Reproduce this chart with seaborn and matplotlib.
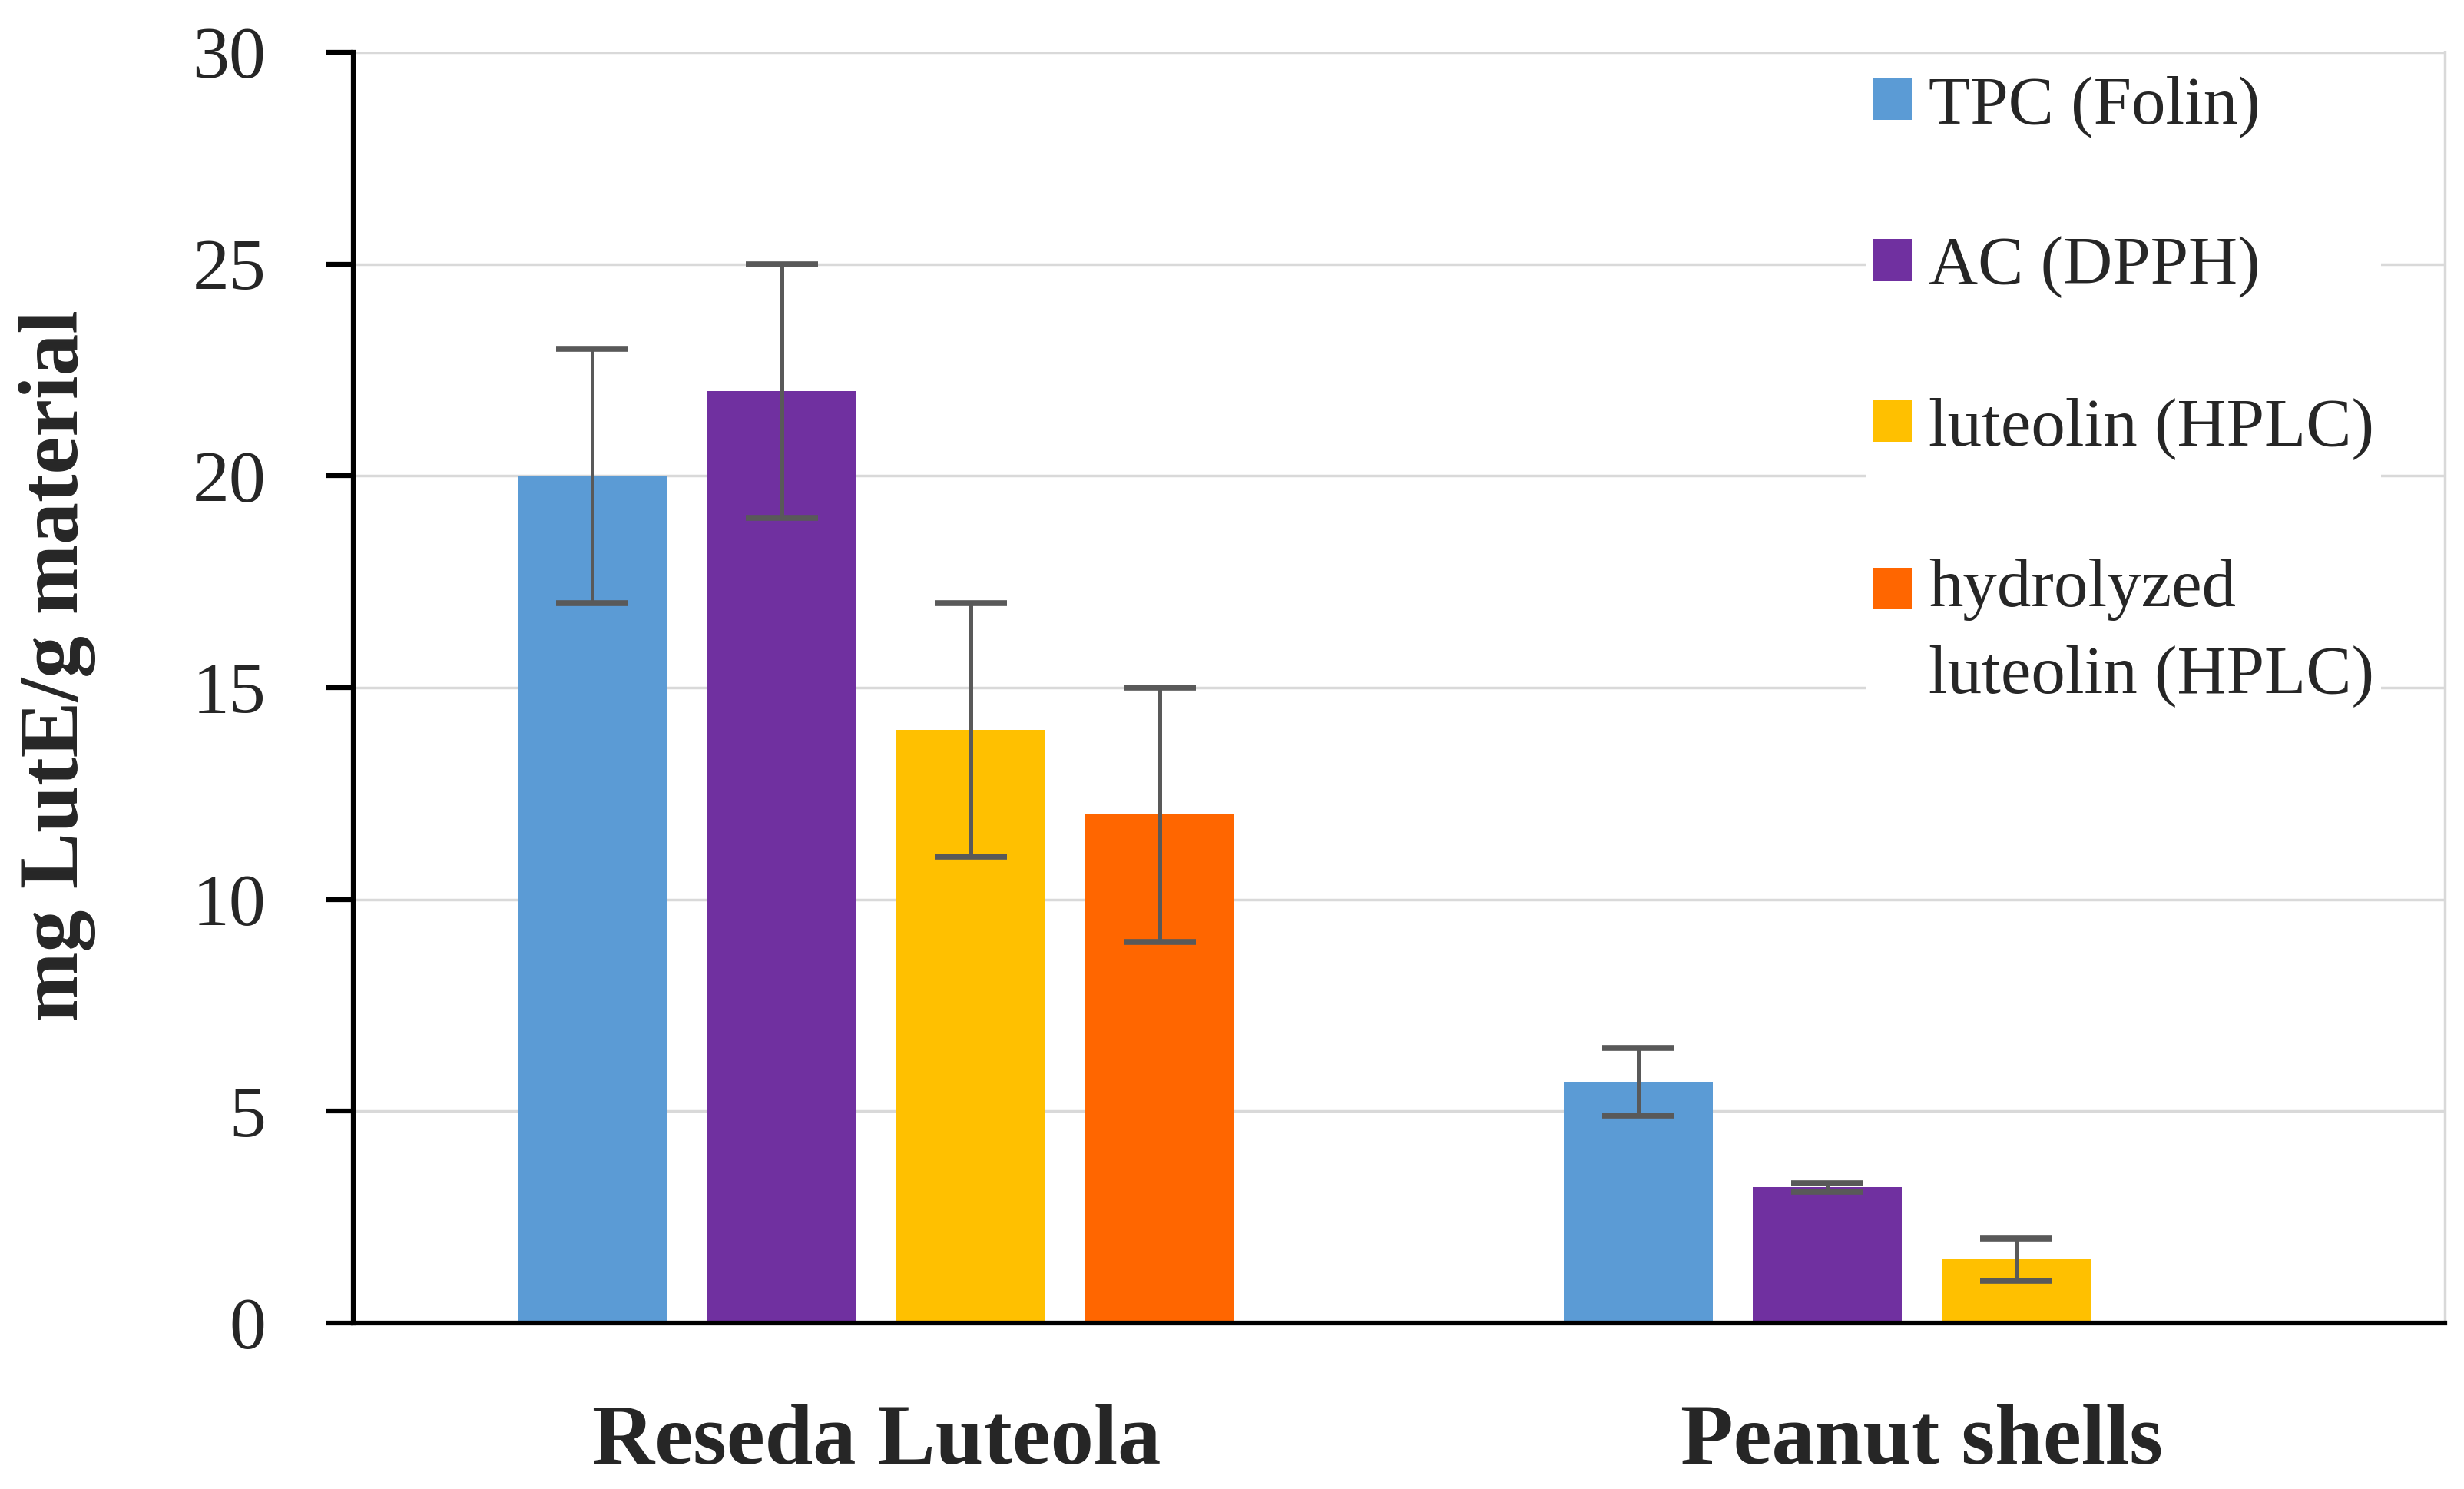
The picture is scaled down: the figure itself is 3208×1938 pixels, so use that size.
import pandas as pd
import matplotlib.pyplot as plt
import seaborn as sns
from matplotlib.patches import Rectangle
from matplotlib.legend_handler import HandlerPatch

# chart data
samples = ["Reseda Luteola", "Peanut shells"]
methods = ["TPC (Folin)", "AC (DPPH)", "luteolin (HPLC)", "hydrolyzed\nluteolin (HPLC)"]
colors = ["#5B9BD5", "#7030A0", "#FFC000", "#FF6600"]

reseda_values = [20, 22, 14, 12]
reseda_errors = [3, 3, 3, 3]
# no hydrolyzed luteolin bar for peanut shells
peanut_values = [5.7, 3.2, 1.5]
peanut_errors = [0.8, 0.1, 0.5]

rows = []
for m, v, e in zip(methods, reseda_values, reseda_errors):
    rows.append({"sample": samples[0], "method": m, "value": v, "err": e})
for m, v, e in zip(methods, peanut_values, peanut_errors):
    rows.append({"sample": samples[1], "method": m, "value": v, "err": e})
data = pd.DataFrame(rows)

sns.set_style("white")
plt.rcParams["font.family"] = ["Liberation Serif", "DejaVu Serif"]

fig = plt.figure(figsize=(32.08, 19.38), dpi=100)
ax = fig.add_axes([0.1434, 0.1115, 0.8488, 0.8534])

sns.barplot(data=data, x="sample", y="value", hue="method",
            order=samples, hue_order=methods,
            palette=dict(zip(methods, colors)), saturation=1,
            width=0.724, gap=0.213, errorbar=None, linewidth=0,
            ax=ax, zorder=2)
ax.set_xlim(-0.5, 1.5)

# error bars on top of each bar, matched by category position
for bar in ax.patches:
    h = bar.get_height()
    if h != h or bar.get_width() == 0:
        continue
    xc = bar.get_x() + bar.get_width() / 2
    sample = samples[int(round(xc))]
    sub = data[(data["sample"] == sample) & (data["value"] == h)]
    if len(sub) == 0:
        continue
    ax.errorbar(xc, h, yerr=sub["err"].iloc[0], fmt="none", ecolor="#595959",
                elinewidth=3.6, capsize=34, capthick=5.5, zorder=3)

ax.set_ylim(0, 30)
ax.set_yticks(range(0, 31, 5))
ax.yaxis.grid(True, color="#D9D9D9", linewidth=2.5)
ax.xaxis.grid(False)
ax.set_axisbelow(True)

ax.spines["left"].set_linewidth(4.5)
ax.spines["left"].set_color("black")
ax.spines["bottom"].set_linewidth(4.5)
ax.spines["bottom"].set_color("black")
ax.spines["right"].set_color("#D9D9D9")
ax.spines["right"].set_linewidth(2.5)
ax.spines["top"].set_visible(False)

ax.tick_params(axis="y", direction="out", length=26, width=4.5, color="black",
               pad=56, labelsize=69, left=True)
ax.tick_params(axis="x", length=0, pad=76, labelsize=81)
for lbl in ax.get_xticklabels():
    lbl.set_fontweight("bold")

ax.set_xlabel("")
ax.set_ylabel("mg LutE/g material", fontsize=79, fontweight="bold")
ax.yaxis.set_label_coords(-0.123, 0.517)


# legend squares sit beside the first line of a two-line label
def square_first_line(legend, orig_handle, xdescent, ydescent, width, height, fontsize):
    lines = legend_label_lines.get(orig_handle, 1)
    shift = (lines - 1) * fontsize * 1.29 / 2
    return Rectangle((-xdescent, -ydescent + shift), width, height)


handles, labels = ax.get_legend_handles_labels()
legend_label_lines = {h: l.count("\n") + 1 for h, l in zip(handles, labels)}
leg = ax.legend(handles, labels, loc="upper left", bbox_to_anchor=(0.7231, 0.9875),
                borderaxespad=0, borderpad=0.1, fontsize=64, frameon=True,
                facecolor="white", edgecolor="none", framealpha=1, fancybox=False,
                handlelength=0.573, handleheight=0.573, handletextpad=0.25,
                labelspacing=1.45,
                handler_map={Rectangle: HandlerPatch(patch_func=square_first_line)})
for t in leg.get_texts():
    t.set_linespacing(1.5)

fig.savefig("out.png", dpi=100)
